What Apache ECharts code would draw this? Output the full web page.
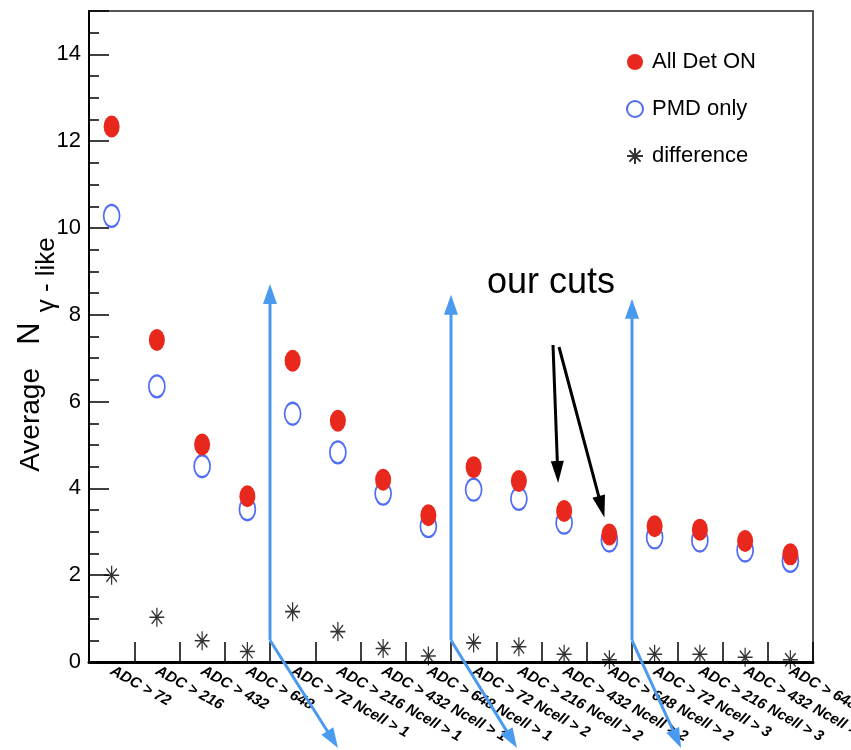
<!DOCTYPE html>
<html>
<head>
<meta charset="utf-8">
<script src="https://cdn.jsdelivr.net/npm/echarts@6/dist/echarts.min.js"></script>
<style>
  html, body { margin: 0; padding: 0; background: #ffffff; }
  #chart { width: 851px; height: 750px; }
</style>
</head>
<body>
<div id="chart"></div>
<script>
// Selection cuts (x categories)
const categories = [
  'ADC > 72', 'ADC > 216', 'ADC > 432', 'ADC > 648',
  'ADC > 72 Ncell > 1', 'ADC > 216 Ncell > 1', 'ADC > 432 Ncell > 1', 'ADC > 648 Ncell > 1',
  'ADC > 72 Ncell > 2', 'ADC > 216 Ncell > 2', 'ADC > 432 Ncell > 2', 'ADC > 648 Ncell > 2',
  'ADC > 72 Ncell > 3', 'ADC > 216 Ncell > 3', 'ADC > 432 Ncell > 3', 'ADC > 648 Ncell > 3'
];

// Average N(gamma-like) per cut
const allDetOn   = [12.34, 7.42, 5.01, 3.82, 6.94, 5.56, 4.20, 3.38, 4.49, 4.17, 3.48, 2.94, 3.13, 3.05, 2.79, 2.48];
const pmdOnly    = [10.28, 6.35, 4.51, 3.52, 5.72, 4.83, 3.88, 3.13, 3.97, 3.76, 3.21, 2.80, 2.87, 2.80, 2.57, 2.33];
const difference = [2.00, 1.03, 0.49, 0.24, 1.16, 0.70, 0.31, 0.14, 0.44, 0.35, 0.18, 0.05, 0.18, 0.18, 0.11, 0.05];

// Legend entries
const seriesNames = ['All Det ON', 'PMD only', 'difference'];

// Annotations: group separators (between category indices) and their arrow tops (y values)
const groupSplitAfter = [3, 7, 11];
const groupArrowTop = [8.71, 8.46, 8.37];
const groupArrowBase = 0.5;
const cutsLabel = 'our cuts';
const highlightedCuts = [10, 11];

const FONT = '"Liberation Sans", Arial, Helvetica, sans-serif';
const RED = '#e8281c';
const BLUE = '#2448f2';
const ARROW_BLUE = '#4a9af0';

const STAR = 'path://M10,0 L10,20 M0,10 L20,10 M3,3 L17,17 M3,17 L17,3 M9,9 L11,9 L11,11 L9,11 Z';

const chart = echarts.init(document.getElementById('chart'), null, { renderer: 'canvas' });

chart.setOption({
  backgroundColor: '#ffffff',
  animation: false,
  grid: {
    left: 89, right: 38, top: 11, bottom: 88,
    containLabel: false, outerBoundsMode: 'none',
    show: true, borderColor: '#555555', borderWidth: 2, backgroundColor: 'transparent'
  },
  legend: {
    orient: 'vertical',
    left: 621, top: 46,
    itemWidth: 16, itemHeight: 22, itemGap: 25,
    data: seriesNames,
    textStyle: { fontFamily: FONT, fontSize: 22, color: '#000000', padding: [0, 0, 0, 4] },
    selectedMode: false
  },
  xAxis: {
    type: 'category',
    data: categories,
    boundaryGap: true,
    axisLine: { lineStyle: { color: '#000000', width: 3 } },
    axisTick: { show: true, inside: true, length: 20, alignWithLabel: false, lineStyle: { color: '#000000', width: 1.5 } },
    axisLabel: {
      interval: 0, rotate: -29, margin: 8,
      fontFamily: FONT, fontSize: 15, fontWeight: 'bold', fontStyle: 'italic', color: '#000000'
    },
    splitLine: { show: false }
  },
  yAxis: {
    type: 'value',
    min: 0, max: 15, interval: 2,
    name: '{a|Average   }{n|N}{s|γ - like}',
    nameLocation: 'middle',
    nameRotate: 90,
    nameGap: 42,
    nameMoveOverlap: false,
    nameTextStyle: {
      padding: [0, 36, 0, 0],
      rich: {
        a: { fontFamily: FONT, fontSize: 28, color: '#000000', lineHeight: 32, verticalAlign: 'top', padding: [2, 0, 0, 0] },
        n: { fontFamily: FONT, fontSize: 31, color: '#000000', lineHeight: 32, verticalAlign: 'top' },
        s: { fontFamily: FONT, fontSize: 26, color: '#000000', lineHeight: 24, padding: [19, 0, 0, 10], verticalAlign: 'top' }
      }
    },
    axisLine: { show: true, lineStyle: { color: '#000000', width: 2 } },
    axisTick: { show: true, inside: true, length: 20, lineStyle: { color: '#000000', width: 1.5 } },
    minorTick: { show: true, splitNumber: 4, length: 10, lineStyle: { color: '#000000', width: 1.5 } },
    axisLabel: { showMaxLabel: false, margin: 8, fontFamily: FONT, fontSize: 22, color: '#000000' },
    splitLine: { show: false }
  },
  series: [
    {
      name: 'All Det ON', type: 'scatter', z: 4,
      data: allDetOn,
      symbol: 'circle', symbolSize: [16, 22],
      itemStyle: { color: RED, opacity: 1 }
    },
    {
      name: 'PMD only', type: 'scatter', z: 3,
      data: pmdOnly,
      symbol: 'emptyCircle', symbolSize: [16, 22],
      itemStyle: { color: BLUE, borderColor: BLUE, borderWidth: 1.3 }
    },
    {
      name: 'difference', type: 'scatter', z: 3,
      data: difference,
      symbol: STAR, symbolSize: [15, 19], symbolKeepAspect: false,
      itemStyle: { color: 'rgba(0,0,0,0)', borderColor: '#000000', borderWidth: 1.4 }
    }
  ]
});

// Arrow helper: shaft plus triangular head at (x2, y2)
function arrow(x1, y1, x2, y2, color, width, headLen, headW) {
  const dx = x2 - x1, dy = y2 - y1;
  const len = Math.sqrt(dx * dx + dy * dy);
  const ux = dx / len, uy = dy / len;
  const bx = x2 - ux * headLen, by = y2 - uy * headLen;
  const px = -uy * headW / 2, py = ux * headW / 2;
  return [
    { type: 'line', silent: true, z: 10,
      shape: { x1: x1, y1: y1, x2: bx + ux * 2, y2: by + uy * 2 },
      style: { stroke: color, lineWidth: width } },
    { type: 'polygon', silent: true, z: 10,
      shape: { points: [[x2, y2], [bx + px, by + py], [bx - px, by - py]] },
      style: { fill: color } }
  ];
}

function px(xi, yv) {
  return chart.convertToPixel({ xAxisIndex: 0, yAxisIndex: 0 }, [xi, yv]);
}

const graphics = [];
const tailDx = [68, 66, 49];
groupSplitAfter.forEach(function (ci, k) {
  const a = px(ci, groupArrowBase), b = px(ci + 1, groupArrowBase);
  const x = (a[0] + b[0]) / 2;
  const yBase = a[1];
  const yTop = px(ci, groupArrowTop[k])[1];
  graphics.push.apply(graphics, arrow(x, yBase, x, yTop, ARROW_BLUE, 3, 20, 14));
  graphics.push.apply(graphics, arrow(x, yBase, x + tailDx[k], 748, ARROW_BLUE, 3, 20, 14));
});

// "our cuts" label with arrows to the chosen cuts
const t0 = px(highlightedCuts[0], allDetOn[highlightedCuts[0]]);
const t1 = px(highlightedCuts[1], allDetOn[highlightedCuts[1]]);
graphics.push({
  type: 'text', silent: true, z: 10,
  style: { text: cutsLabel, x: 551, y: 283, align: 'center', verticalAlign: 'middle',
           font: '36px ' + FONT, fill: '#000000' }
});
graphics.push.apply(graphics, arrow(553, 345, t0[0] - 6, t0[1] - 28, '#000000', 3, 22, 13));
graphics.push.apply(graphics, arrow(559, 347, t1[0] - 5, t1[1] - 17, '#000000', 3, 22, 13));

chart.setOption({ graphic: graphics });
</script>
</body>
</html>
